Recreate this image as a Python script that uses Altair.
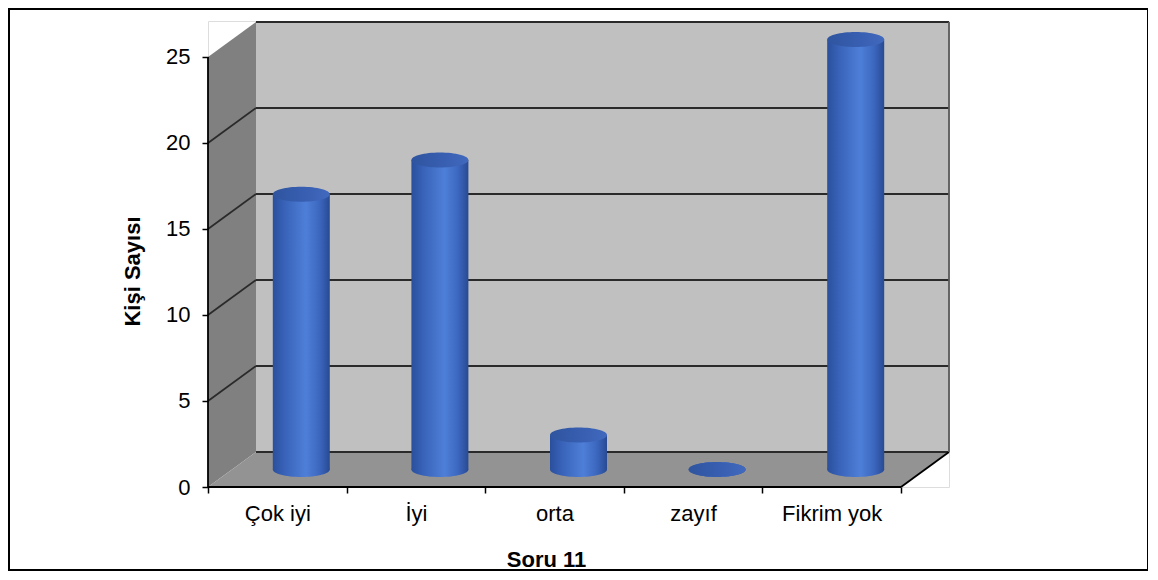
import altair as alt
import pandas as pd

# ---- data ----
categories = ["Çok iyi", "İyi", "orta", "zayıf", "Fikrim yok"]
counts = [16, 18, 2, 0, 25]
y_ticks = [0, 5, 10, 15, 20, 25]
x_title = "Soru 11"
y_title = "Kişi Sayısı"

# ---- 3D-look geometry (in data units) ----
n = len(categories)
TOP = y_ticks[-1]
DX = 0.3463          # depth offset along x (category units)
DY = 2.035           # depth offset along y (count units)
XMAX = n + DX
YMAX = 27.093
HALF = 0.2056        # half bar width in category units
W, H = 741, 466
FONT = "Liberation Sans"

xs = alt.Scale(domain=[0, XMAX], nice=False, zero=False)
ys = alt.Scale(domain=[0, YMAX], nice=False, zero=False)

labels_js = "[" + ",".join("'" + c + "'" for c in categories) + "]"
AX = alt.Axis(
    values=[i * 0.5 for i in range(2 * n + 1)],
    labelExpr="datum.value % 1 == 0 ? '' : " + labels_js + "[floor(datum.value)]",
    tickOpacity={"condition": {"test": "datum.value % 1 === 0", "value": 1}, "value": 0},
    domain=False, grid=False, tickSize=6, tickColor="#000000", tickWidth=1.5,
    labelFontSize=22, labelFont=FONT, labelColor="#000000",
    labelBaseline="alphabetic", labelPadding=27,
    labelFlush=False, labelOverlap=False, labelAngle=0,
    title=x_title, titleFont=FONT, titleFontSize=22, titleFontWeight="bold",
    titleColor="#000000", titleX=338, titleY=79, titleBaseline="alphabetic",
    titleAlign="center", titleAnchor="middle", zindex=1,
)
AY = alt.Axis(
    values=y_ticks, domain=False, grid=False, tickSize=6, tickColor="#000000",
    tickWidth=1.5, labelFontSize=22, labelFont=FONT, labelColor="#000000",
    labelPadding=12, labelOverlap=False, labelFlush=False,
    title=y_title, titleFont=FONT, titleFontSize=22, titleFontWeight="bold",
    titleColor="#000000", titleX=-76, titleY=250, titleAngle=270,
    titleBaseline="middle", titleAlign="center", zindex=1,
)


def X(field):
    return alt.X(field, scale=xs, axis=AX)


def Y(field):
    return alt.Y(field, scale=ys, axis=AY)


# border around whole picture
border = alt.Chart(pd.DataFrame({"a": [0]})).mark_rect(
    fillOpacity=0, stroke="#000000", strokeWidth=2
).encode(x=alt.value(-199), x2=alt.value(940), y=alt.value(-12), y2=alt.value(549))

# side wall
side_df = pd.DataFrame({"x": [0, DX], "lo": [0, DY], "hi": [TOP, TOP + DY]})
side = alt.Chart(side_df).mark_area(color="#808080", orient="vertical").encode(
    x=X("x:Q"), y=Y("hi:Q"), y2="lo:Q",
)

# floor
floor_df = pd.DataFrame({"x": [0, DX, n, n + DX], "lo": [0, 0, 0, DY], "hi": [0, DY, DY, DY]})
floor = alt.Chart(floor_df).mark_area(color="#939393", orient="vertical").encode(
    x=X("x:Q"), y=Y("hi:Q"), y2="lo:Q",
)

# back wall
back_df = pd.DataFrame({"x": [DX], "x2": [n + DX], "y": [DY], "y2": [TOP + DY]})
back = alt.Chart(back_df).mark_rect(color="#c0c0c0").encode(
    x=X("x:Q"), x2="x2:Q", y=Y("y:Q"), y2="y2:Q",
)

# grid lines and edges
seg_rows = []
for v in y_ticks:
    seg_rows.append({"x": DX, "y": v + DY, "x2": n + DX, "y2": v + DY, "c": "#2a2a2a"})
for v in y_ticks[1:-1]:
    seg_rows.append({"x": 0, "y": v, "x2": DX, "y2": v + DY, "c": "#2a2a2a"})
seg_rows += [
    {"x": 0, "y": 0, "x2": 0, "y2": TOP, "c": "#000000"},
    {"x": 0, "y": 0, "x2": n, "y2": 0, "c": "#000000"},
    {"x": n, "y": 0, "x2": n + DX, "y2": DY, "c": "#000000"},
    {"x": n + DX, "y": DY, "x2": n + DX, "y2": TOP + DY, "c": "#5a5a5a"},
]
segs = alt.Chart(pd.DataFrame(seg_rows)).mark_rule(strokeWidth=1.8).encode(
    x=X("x:Q"), x2="x2:Q", y=Y("y:Q"), y2="y2:Q",
    color=alt.Color("c:N", scale=None),
)

# cylinders
bars_df = pd.DataFrame({"cat": categories, "v": counts})
bars_df["cx"] = [i + 0.5 + DX / 2 for i in range(n)]
bars_df["x1"] = bars_df["cx"] - HALF
bars_df["x2"] = bars_df["cx"] + HALF
bars_df["lo"] = DY / 2
bars_df["hi"] = bars_df["v"] + DY / 2

k = 0.263
c = round(k * 0.5523, 4)
ELLIPSE = (f"M -1 0 C -1 {-c} -0.5523 {-k} 0 {-k} C 0.5523 {-k} 1 {-c} 1 0 "
           f"C 1 {c} 0.5523 {k} 0 {k} C -0.5523 {k} -1 {c} -1 0 Z")
SIZE = 57 * 57

body_grad = alt.LinearGradient(
    gradient="linear", x1=0, x2=1, y1=0, y2=0,
    stops=[
        alt.GradientStop(offset=0, color="#2a4f9c"),
        alt.GradientStop(offset=0.2, color="#3862b8"),
        alt.GradientStop(offset=0.58, color="#4e7fd8"),
        alt.GradientStop(offset=0.82, color="#3c67bf"),
        alt.GradientStop(offset=1, color="#284a93"),
    ],
)
top_grad = alt.LinearGradient(
    gradient="linear", x1=0, x2=1, y1=0, y2=0,
    stops=[
        alt.GradientStop(offset=0, color="#2f559f"),
        alt.GradientStop(offset=0.6, color="#385fb2"),
        alt.GradientStop(offset=1, color="#4169bd"),
    ],
)

base_ell = alt.Chart(bars_df).mark_point(
    shape=ELLIPSE, size=SIZE, filled=True, fill=body_grad, strokeWidth=0, opacity=1
).encode(x=X("cx:Q"), y=Y("lo:Q"))
body = alt.Chart(bars_df).mark_rect(fill=body_grad, strokeWidth=0).encode(
    x=X("x1:Q"), x2="x2:Q", y=Y("lo:Q"), y2="hi:Q",
)
top_ell = alt.Chart(bars_df).mark_point(
    shape=ELLIPSE, size=SIZE, filled=True, fill=top_grad, strokeWidth=0, opacity=1
).encode(x=X("cx:Q"), y=Y("hi:Q"))

chart = alt.layer(border, side, floor, back, segs, base_ell, body, top_ell).properties(
    width=W, height=H,
    autosize=alt.AutoSizeParams(type="none"),
    padding={"left": 200, "top": 13, "right": 199, "bottom": 84},
).configure_view(stroke=None).configure(background="white")

chart.save("out.html", embed_options={"renderer": "svg", "actions": False})
